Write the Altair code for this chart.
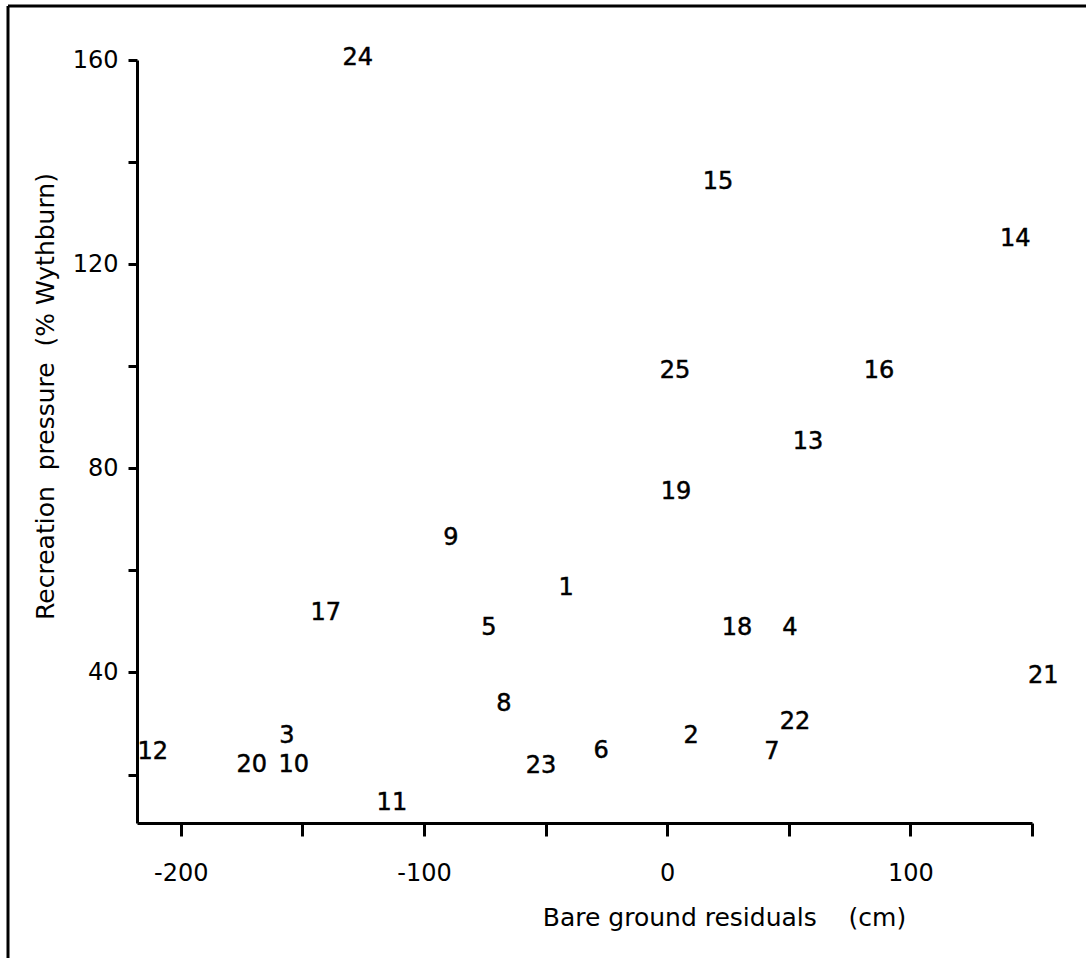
import altair as alt
import pandas as pd

# Site numbers and their coordinates
sites = [str(i) for i in range(1, 26)]
bare_ground_residual = [
    -41.6, 9.8, -156.4, 50.5, -73.3, -27.2, 43.1, -67.1, -88.9, -153.5,
    -113.2, -211.5, 57.9, 143.1, 20.9, 87.1, -140.4, 28.7, 3.6, -170.8,
    154.6, 52.6, -51.9, -127.2, 3.2,
]
recreation_pressure = [
    56.6, 27.6, 27.6, 48.7, 48.7, 24.7, 24.5, 33.9, 66.3, 21.8,
    14.5, 24.5, 85.1, 125.0, 136.0, 99.0, 51.7, 48.7, 75.3, 21.8,
    39.4, 30.2, 21.6, 160.3, 99.0,
]

x_ticks = [-200, -150, -100, -50, 0, 50, 100, 150]
y_ticks = [20, 40, 60, 80, 100, 120, 140, 160]

df = pd.DataFrame({
    "site": sites,
    "bare": bare_ground_residual,
    "pressure": recreation_pressure,
})

FONT = "DejaVu Sans"
NB = "\u00a0"

x_enc = alt.X(
    "bare:Q",
    scale=alt.Scale(domain=[-218, 150], nice=False, zero=False),
    axis=alt.Axis(
        values=x_ticks,
        labelExpr="datum.value % 100 == 0 ? '' + datum.value : ''",
        title=f"Bare{NB}ground{NB}residuals{NB}{NB}{NB}{NB}(cm)",
        titleX=587,
        titleY=82,
        titleBaseline="top",
        titleAlign="center",
        tickSize=13,
        labelPadding=25,
        labelAngle=0,
    ),
)
y_enc = alt.Y(
    "pressure:Q",
    scale=alt.Scale(domain=[10.5, 160], nice=False, zero=False),
    axis=alt.Axis(
        values=y_ticks,
        labelExpr="datum.value % 40 == 0 ? '' + datum.value : ''",
        title=f"Recreation{NB}{NB}pressure{NB}{NB}(%{NB}Wythburn)",
        titleX=-92,
        titleY=336,
        titleBaseline="middle",
        titleAlign="center",
        tickSize=9,
        labelPadding=10,
    ),
)

points = alt.Chart(df).mark_text(
    font=FONT, fontSize=24, color="black", align="center", baseline="middle",
    stroke="black", strokeWidth=0.5,
).encode(x=x_enc, y=y_enc, text="site:N")

# Figure frame (left and top edges)
one = pd.DataFrame({"k": [0]})
frame_left = alt.Chart(one).mark_rule(color="black", strokeWidth=3).encode(
    x=alt.value(-129), y=alt.value(-54), y2=alt.value(898)
)
frame_top = alt.Chart(one).mark_rule(color="black", strokeWidth=3).encode(
    x=alt.value(-129), x2=alt.value(949), y=alt.value(-54)
)

chart = (
    alt.layer(points, frame_left, frame_top)
    .properties(
        width=895,
        height=763,
        autosize=alt.AutoSizeParams(type="none"),
        padding={"left": 137, "top": 60, "right": 54, "bottom": 135},
        background="white",
    )
    .configure_view(stroke=None)
    .configure_axis(
        grid=False,
        domainColor="black",
        domainWidth=3,
        tickColor="black",
        tickWidth=3,
        labelFont=FONT,
        labelFontSize=24,
        labelColor="black",
        titleFont=FONT,
        titleFontSize=25,
        titleFontWeight="normal",
        titleColor="black",
    )
)

chart.save("out.html", embed_options={"renderer": "svg", "actions": False})
